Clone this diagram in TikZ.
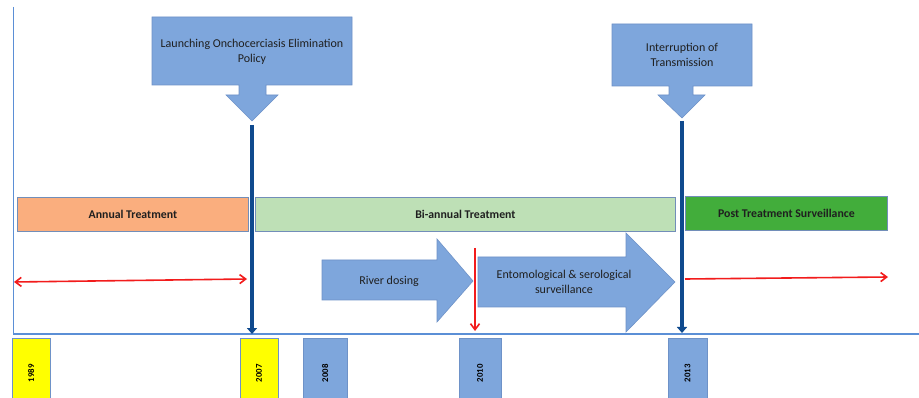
\documentclass[tikz,border=0pt]{standalone}
\usepackage{fontspec}
\setmainfont{Carlito}
\usetikzlibrary{arrows.meta}
\definecolor{bfill}{HTML}{7EA6DC}
\definecolor{bdraw}{HTML}{6E92C8}
\definecolor{dblue}{HTML}{0F4A8E}
\definecolor{orng}{HTML}{FAAE7E}
\definecolor{lgrn}{HTML}{BEE0B6}
\definecolor{dgrn}{HTML}{42AD3B}
\definecolor{axis}{HTML}{5B8FD6}
\definecolor{rline}{HTML}{F21C1C}
\definecolor{yel}{HTML}{FFFF00}
\definecolor{txt}{HTML}{1F1F1F}
\tikzset{
  shapebox/.style={fill=bfill, draw=bdraw, line width=0.6pt},
  phasebox/.style={draw=bdraw!80!gray, line width=0.8pt, minimum height=34pt, inner sep=0pt, font=\fontsize{11.8}{13}\selectfont\bfseries, text=txt},
  yearbox/.style={draw=bdraw, line width=0.6pt, minimum width=38pt, minimum height=70pt, inner sep=0pt, anchor=north},
  yeartext/.style={rotate=90, font=\fontsize{8.8}{10}\selectfont\bfseries, text=black},
  redarrow/.style={draw=rline, line width=1.6pt, -{Straight Barb[length=6pt,width=9pt]}},
  milestone/.style={draw=dblue, line width=4pt, -{Triangle[length=6pt,width=10pt]}},
  lbl/.style={font=\fontsize{12}{15}\selectfont, text=txt, align=center}
}
\begin{document}
\begin{tikzpicture}[x=1pt,y=-1pt]
\useasboundingbox (0,0) rectangle (919,398);
\fill[white] (0,0) rectangle (919,398);

% axes
\coordinate (ax0) at (13.5,7);
\coordinate (ax1) at (13.5,334);
\coordinate (ax2) at (919,334);
\draw[axis, line width=1.2pt] (ax0) -- (ax1) -- (ax2);

% year boxes
\node[yearbox, fill=yel, minimum width=38pt] (y1989) at (31,338) {};
\node[yeartext] at (y1989.center) {1989};
\node[yearbox, fill=yel, minimum width=38pt] (y2007) at (259,338) {};
\node[yeartext] at (y2007.center) {2007};
\node[yearbox, fill=bfill, minimum width=44pt] (y2008) at (325,338) {};
\node[yeartext] at (y2008.center) {2008};
\node[yearbox, fill=bfill, minimum width=42pt] (y2010) at (480,338) {};
\node[yeartext] at (y2010.center) {2010};
\node[yearbox, fill=bfill, minimum width=39pt] (y2013) at (687.5,338) {};
\node[yeartext] at (y2013.center) {2013};

% phase boxes
\node[phasebox, fill=orng, minimum width=231pt, anchor=north west] (annual) at (17,197) {Annual Treatment};
\node[phasebox, fill=lgrn, minimum width=420pt, anchor=north west] (biannual) at (255,197) {Bi-annual Treatment};
\node[phasebox, fill=dgrn, minimum width=202pt, anchor=north west] (post) at (685,196) {Post Treatment Surveillance};

% callout 1
\draw[shapebox] (152,17) -- (352,17) -- (352,85) -- (266,85) -- (266,95) -- (278,95)
  -- (252,121) -- (226,95) -- (239,95) -- (239,85) -- (152,85) -- cycle;
\node[lbl] (policy) at (252,52) {Launching Onchocerciasis Elimination\\Policy};
\coordinate (p1top) at (252,125);
\coordinate (p1bot) at (252,334);
\draw[milestone] (p1top) -- (p1bot);

% callout 2
\draw[shapebox] (612,24) -- (752,24) -- (752,86) -- (693,86) -- (693,95) -- (705,95)
  -- (682,118) -- (658,95) -- (669,95) -- (669,86) -- (612,86) -- cycle;
\node[lbl] (interrupt) at (682,55) {Interruption of\\Transmission};
\coordinate (p2top) at (682,121);
\coordinate (p2bot) at (682,333);
\draw[milestone] (p2top) -- (p2bot);

% river dosing arrow
\draw[shapebox] (322,260) -- (437,260) -- (437,239) -- (473,281) -- (437,322)
  -- (437,300) -- (322,300) -- cycle;
\node[lbl] (river) at (389,281) {River dosing};

% entomological arrow
\draw[shapebox] (478,257) -- (626,257) -- (626,233) -- (675,282) -- (626,332)
  -- (626,307) -- (478,307) -- cycle;
\node[lbl] (ento) at (564,282) {Entomological \& serological\\surveillance};

% red arrows
\coordinate (r1a) at (14,282);
\coordinate (r1b) at (247,279);
\draw[redarrow, {Straight Barb[length=6pt,width=9pt]}-{Straight Barb[length=6pt,width=9pt]}] (r1a) -- (r1b);
\coordinate (r2a) at (475,248);
\coordinate (r2b) at (475,331);
\draw[redarrow] (r2a) -- (r2b);
\coordinate (r3a) at (685,279);
\coordinate (r3b) at (888,277);
\draw[redarrow] (r3a) -- (r3b);
\end{tikzpicture}
\end{document}
